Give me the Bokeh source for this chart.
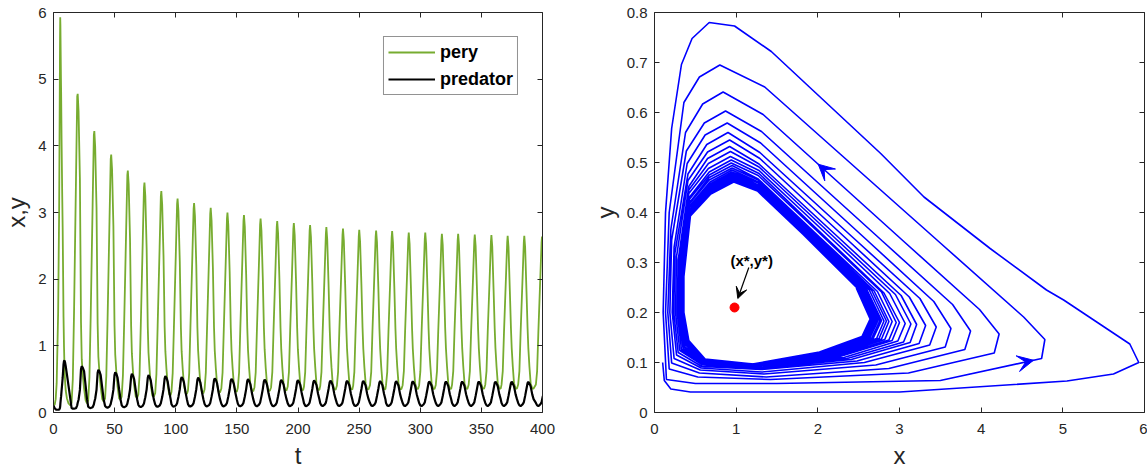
from bokeh.plotting import figure
from bokeh.layouts import row
from bokeh.models import (Range1d, LinearAxis, FixedTicker, Legend, LegendItem,
                          Arrow, VeeHead, Label, ColumnDataSource)
from bokeh.embed import file_html
from bokeh.resources import INLINE

# ---------------- data ----------------
# first (transient) loop, explicit samples: time, prey x, predator y
start_t = [0, 1.0, 1.8, 2.6, 3.8, 4.6, 5.2, 5.35, 5.5, 5.65, 6.1, 6.25, 6.6, 7.1, 7.5,
           8.2, 8.6, 9.0, 9.5, 10.0, 11.0, 12.3, 13.8]
start_x = [0.10, 0.12, 0.20, 0.44, 1.50, 3.00, 5.05, 5.62, 5.93, 5.82, 5.01, 4.80, 4.11,
           3.30, 2.77, 1.43, 0.98, 0.67, 0.46, 0.33, 0.21, 0.135, 0.106]
start_y = [0.10, 0.064, 0.047, 0.041, 0.041, 0.041, 0.063, 0.077, 0.10, 0.137, 0.225, 0.245,
           0.328, 0.431, 0.518, 0.722, 0.773, 0.78, 0.748, 0.696, 0.568, 0.40, 0.20]

# times of the prey peaks of the following loops (loops 2 .. 30)
peak_t = [19.8, 33.4, 47.2, 60.8, 74.4, 88.2, 101.5, 115.0, 128.6, 142.3, 155.8, 169.4,
          183.0, 196.6, 209.9, 223.2, 236.8, 250.1, 263.9, 277.0, 290.6, 304.1, 317.7,
          331.0, 344.6, 358.2, 371.5, 385.1, 399.6]
# time of each loop vertex relative to that loop's prey peak
vertex_dt = [-5.0, -4.0, -3.0, -1.4, -0.4, 0.0, 0.7, 1.8, 2.7, 3.3, 4.2, 5.2, 6.5, 7.6]

# loop vertices (prey x, predator y), loops 2 .. 30
loops_x = [
    [0.146, 0.50, 1.50, 3.50, 4.74, 4.78, 4.52, 3.50, 1.35, 0.80, 0.55, 0.36, 0.18, 0.135],
    [0.180, 0.53, 1.42, 3.11, 4.16, 4.22, 3.98, 3.06, 1.33, 0.84, 0.59, 0.38, 0.20, 0.163],
    [0.21, 0.55, 1.37, 2.87, 3.80, 3.87, 3.65, 2.79, 1.31, 0.87, 0.61, 0.39, 0.21, 0.188],
    [0.24, 0.56, 1.34, 2.71, 3.56, 3.63, 3.42, 2.60, 1.30, 0.89, 0.62, 0.40, 0.24, 0.217],
    [0.27, 0.57, 1.31, 2.57, 3.37, 3.45, 3.25, 2.45, 1.29, 0.90, 0.64, 0.41, 0.25, 0.236],
    [0.29, 0.58, 1.30, 2.48, 3.24, 3.32, 3.12, 2.34, 1.29, 0.92, 0.65, 0.41, 0.27, 0.257],
    [0.31, 0.59, 1.28, 2.41, 3.13, 3.21, 3.02, 2.26, 1.28, 0.92, 0.65, 0.42, 0.29, 0.277],
    [0.33, 0.59, 1.27, 2.36, 3.05, 3.14, 2.95, 2.21, 1.28, 0.93, 0.66, 0.42, 0.30, 0.290],
    [0.35, 0.60, 1.26, 2.32, 2.98, 3.07, 2.88, 2.16, 1.28, 0.93, 0.66, 0.42, 0.31, 0.300],
    [0.36, 0.60, 1.25, 2.27, 2.91, 3.00, 2.81, 2.11, 1.28, 0.94, 0.67, 0.43, 0.32, 0.310],
    [0.37, 0.60, 1.25, 2.24, 2.87, 2.96, 2.78, 2.07, 1.27, 0.94, 0.67, 0.43, 0.33, 0.318],
    [0.38, 0.60, 1.24, 2.20, 2.82, 2.91, 2.73, 2.02, 1.27, 0.95, 0.67, 0.43, 0.33, 0.325],
    [0.38, 0.61, 1.24, 2.18, 2.78, 2.87, 2.69, 2.00, 1.27, 0.95, 0.67, 0.43, 0.34, 0.330],
    [0.39, 0.61, 1.23, 2.15, 2.75, 2.84, 2.66, 1.97, 1.27, 0.95, 0.68, 0.43, 0.34, 0.335],
    [0.39, 0.61, 1.23, 2.14, 2.72, 2.81, 2.63, 1.95, 1.27, 0.95, 0.68, 0.43, 0.34, 0.339],
    [0.40, 0.61, 1.22, 2.11, 2.68, 2.78, 2.60, 1.92, 1.27, 0.96, 0.68, 0.43, 0.35, 0.342],
    [0.40, 0.61, 1.22, 2.10, 2.66, 2.76, 2.58, 1.91, 1.27, 0.96, 0.68, 0.44, 0.35, 0.345],
    [0.40, 0.61, 1.22, 2.08, 2.64, 2.74, 2.56, 1.90, 1.27, 0.96, 0.68, 0.44, 0.35, 0.347],
    [0.41, 0.61, 1.22, 2.08, 2.63, 2.73, 2.56, 1.89, 1.26, 0.96, 0.68, 0.44, 0.35, 0.349],
    [0.41, 0.61, 1.21, 2.07, 2.62, 2.72, 2.55, 1.88, 1.26, 0.96, 0.68, 0.44, 0.35, 0.351],
    [0.41, 0.62, 1.21, 2.06, 2.60, 2.70, 2.53, 1.86, 1.26, 0.96, 0.68, 0.44, 0.355, 0.353],
    [0.41, 0.62, 1.21, 2.05, 2.60, 2.70, 2.53, 1.86, 1.26, 0.96, 0.69, 0.44, 0.356, 0.354],
    [0.414, 0.62, 1.21, 2.04, 2.58, 2.68, 2.51, 1.85, 1.26, 0.97, 0.69, 0.44, 0.356, 0.355],
    [0.415, 0.62, 1.21, 2.04, 2.58, 2.68, 2.51, 1.85, 1.26, 0.97, 0.69, 0.44, 0.357, 0.356],
    [0.416, 0.62, 1.21, 2.03, 2.57, 2.67, 2.50, 1.84, 1.26, 0.97, 0.69, 0.44, 0.358, 0.357],
    [0.417, 0.62, 1.21, 2.03, 2.56, 2.66, 2.49, 1.83, 1.26, 0.97, 0.69, 0.44, 0.359, 0.358],
    [0.418, 0.62, 1.20, 2.02, 2.55, 2.65, 2.48, 1.82, 1.26, 0.97, 0.69, 0.44, 0.36, 0.359],
    [0.419, 0.62, 1.20, 2.02, 2.55, 2.65, 2.48, 1.82, 1.26, 0.97, 0.69, 0.44, 0.36, 0.36],
    [0.42, 0.62, 1.20, 2.02, 2.54, 2.64, 2.47],
]
loops_y = [
    [0.066, 0.058, 0.058, 0.064, 0.108, 0.146, 0.191, 0.339, 0.651, 0.695, 0.671, 0.620, 0.400, 0.200],
    [0.087, 0.071, 0.066, 0.079, 0.119, 0.157, 0.206, 0.341, 0.596, 0.641, 0.617, 0.560, 0.366, 0.200],
    [0.099, 0.079, 0.071, 0.088, 0.126, 0.163, 0.216, 0.343, 0.562, 0.603, 0.579, 0.523, 0.345, 0.200],
    [0.108, 0.085, 0.077, 0.095, 0.131, 0.168, 0.222, 0.345, 0.539, 0.579, 0.555, 0.498, 0.331, 0.200],
    [0.115, 0.089, 0.081, 0.100, 0.135, 0.171, 0.228, 0.347, 0.520, 0.560, 0.536, 0.477, 0.319, 0.200],
    [0.120, 0.092, 0.086, 0.103, 0.138, 0.174, 0.231, 0.349, 0.508, 0.545, 0.521, 0.464, 0.312, 0.200],
    [0.124, 0.095, 0.088, 0.106, 0.140, 0.176, 0.234, 0.349, 0.497, 0.532, 0.508, 0.452, 0.305, 0.200],
    [0.126, 0.096, 0.090, 0.108, 0.141, 0.177, 0.236, 0.349, 0.491, 0.522, 0.498, 0.445, 0.301, 0.200],
    [0.128, 0.098, 0.091, 0.110, 0.143, 0.178, 0.238, 0.349, 0.484, 0.512, 0.488, 0.438, 0.297, 0.200],
    [0.131, 0.099, 0.092, 0.112, 0.144, 0.180, 0.239, 0.348, 0.478, 0.505, 0.481, 0.431, 0.293, 0.200],
    [0.132, 0.100, 0.093, 0.113, 0.145, 0.180, 0.241, 0.351, 0.474, 0.499, 0.475, 0.427, 0.291, 0.200],
    [0.135, 0.101, 0.094, 0.114, 0.146, 0.182, 0.242, 0.351, 0.467, 0.494, 0.470, 0.420, 0.287, 0.200],
    [0.136, 0.102, 0.094, 0.115, 0.147, 0.182, 0.243, 0.351, 0.465, 0.489, 0.465, 0.418, 0.286, 0.200],
    [0.137, 0.103, 0.095, 0.116, 0.148, 0.183, 0.244, 0.352, 0.461, 0.485, 0.461, 0.413, 0.283, 0.200],
    [0.138, 0.103, 0.095, 0.117, 0.148, 0.183, 0.245, 0.352, 0.459, 0.481, 0.457, 0.411, 0.282, 0.200],
    [0.139, 0.104, 0.096, 0.118, 0.149, 0.184, 0.246, 0.353, 0.455, 0.478, 0.454, 0.406, 0.279, 0.200],
    [0.140, 0.105, 0.096, 0.118, 0.149, 0.184, 0.246, 0.352, 0.454, 0.475, 0.451, 0.405, 0.278, 0.200],
    [0.141, 0.105, 0.096, 0.119, 0.150, 0.185, 0.247, 0.352, 0.452, 0.473, 0.449, 0.403, 0.277, 0.200],
    [0.141, 0.106, 0.097, 0.119, 0.150, 0.185, 0.247, 0.352, 0.451, 0.471, 0.447, 0.402, 0.277, 0.200],
    [0.141, 0.106, 0.097, 0.119, 0.150, 0.185, 0.247, 0.352, 0.450, 0.469, 0.445, 0.401, 0.276, 0.200],
    [0.142, 0.106, 0.097, 0.120, 0.150, 0.185, 0.248, 0.353, 0.448, 0.467, 0.443, 0.399, 0.275, 0.200],
    [0.142, 0.106, 0.097, 0.120, 0.151, 0.186, 0.248, 0.353, 0.447, 0.466, 0.442, 0.398, 0.274, 0.200],
    [0.143, 0.107, 0.097, 0.120, 0.151, 0.186, 0.248, 0.354, 0.446, 0.465, 0.441, 0.396, 0.274, 0.200],
    [0.143, 0.107, 0.097, 0.120, 0.151, 0.186, 0.248, 0.354, 0.446, 0.464, 0.440, 0.396, 0.273, 0.200],
    [0.143, 0.107, 0.097, 0.121, 0.151, 0.186, 0.249, 0.354, 0.445, 0.463, 0.439, 0.395, 0.273, 0.200],
    [0.144, 0.107, 0.097, 0.121, 0.151, 0.186, 0.249, 0.355, 0.444, 0.462, 0.438, 0.394, 0.272, 0.200],
    [0.144, 0.107, 0.097, 0.121, 0.151, 0.186, 0.249, 0.356, 0.443, 0.462, 0.438, 0.393, 0.272, 0.200],
    [0.144, 0.107, 0.097, 0.121, 0.152, 0.187, 0.249, 0.356, 0.443, 0.461, 0.437, 0.393, 0.272, 0.200],
    [0.144, 0.107, 0.097, 0.121, 0.152, 0.187, 0.249],
]

# equilibrium point
eq_x = [0.98]
eq_y = [0.21]
eq_label = "(x*,y*)"

# direction arrows on the phase curve: (loop index, vertex index, fraction along segment)
arrow_loop = [1, 0]
arrow_seg = [7, 3]
arrow_frac = [0.61, 0.92]

series_names = ["pery", "predator"]
t_ticks = [0, 50, 100, 150, 200, 250, 300, 350, 400]
xy_ticks = [0, 1, 2, 3, 4, 5, 6]
phase_x_ticks = [0, 1, 2, 3, 4, 5, 6]
phase_y_ticks = [0, 0.1, 0.2, 0.3, 0.4, 0.5, 0.6, 0.7, 0.8]

# ---------------- assemble trajectory ----------------
t_all, x_all, y_all = list(start_t), list(start_x), list(start_y)
for tp, lx, ly in zip(peak_t, loops_x, loops_y):
    for dt, xv, yv in zip(vertex_dt, lx, ly):
        t_all.append(tp + dt)
        x_all.append(xv)
        y_all.append(yv)
src = ColumnDataSource(dict(t=t_all, x=x_all, y=y_all))

FONT = "Liberation Sans"
AX = "#262626"
GREEN = "#77AC30"
BLUE = "#0000FF"


def frame_axes(p, xt, yt, xlabel, ylabel):
    bottom = p.below[0]
    left = p.left[0]
    bottom.ticker = FixedTicker(ticks=xt)
    left.ticker = FixedTicker(ticks=yt)
    bottom.axis_label = xlabel
    left.axis_label = ylabel
    top = LinearAxis(ticker=FixedTicker(ticks=xt), major_label_text_color=None,
                     major_label_text_font_size="1px", major_label_standoff=0)
    right = LinearAxis(ticker=FixedTicker(ticks=yt), major_label_text_color=None,
                       major_label_text_font_size="1px", major_label_standoff=0)
    p.add_layout(top, "above")
    p.add_layout(right, "right")
    for ax in (bottom, left, top, right):
        ax.major_tick_in = 5
        ax.major_tick_out = 0
        ax.minor_tick_in = 0
        ax.minor_tick_out = 0
        ax.axis_line_color = AX
        ax.axis_line_width = 1
        ax.major_tick_line_color = AX
        ax.major_tick_line_width = 1
    for ax in (bottom, left):
        ax.major_label_text_font = FONT
        ax.major_label_text_font_size = "15px"
        ax.major_label_text_color = AX
        ax.axis_label_text_font = FONT
        ax.axis_label_text_font_size = "24px"
        ax.axis_label_text_font_style = "normal"
        ax.axis_label_text_color = AX
    bottom.major_label_standoff = 11
    bottom.axis_label_standoff = 5
    left.major_label_standoff = 7
    left.axis_label_standoff = 5
    p.grid.visible = False
    p.outline_line_color = None
    p.background_fill_color = "white"
    p.border_fill_color = "white"
    return bottom, left


# ---------------- left: time series ----------------
p1 = figure(width=573, height=472, x_range=Range1d(0, 400), y_range=Range1d(0, 6),
            output_backend="svg", toolbar_location=None,
            min_border_left=51, min_border_right=31, min_border_top=12, min_border_bottom=60)
r_prey = p1.line("t", "x", source=src, line_color=GREEN, line_width=1.8)
r_pred = p1.line("t", "y", source=src, line_color="black", line_width=2.2)
frame_axes(p1, t_ticks, xy_ticks, "t", "x,y")

legend = Legend(items=[LegendItem(label=series_names[0], renderers=[r_prey]),
                       LegendItem(label=series_names[1], renderers=[r_pred])],
                location="top_right", margin=24, padding=4, spacing=5,
                glyph_width=47, glyph_height=22, label_height=22, label_standoff=5,
                label_text_font=FONT, label_text_font_style="bold",
                label_text_font_size="18px", label_text_color="black",
                border_line_color=AX, border_line_width=1,
                background_fill_color="white", background_fill_alpha=1)
p1.add_layout(legend)

# ---------------- right: phase portrait ----------------
p2 = figure(width=574, height=472, x_range=Range1d(0, 6), y_range=Range1d(0, 0.8),
            output_backend="svg", toolbar_location=None,
            min_border_left=81, min_border_right=3, min_border_top=12, min_border_bottom=60)
p2.line("x", "y", source=src, line_color=BLUE, line_width=1.6)
p2.scatter(eq_x, eq_y, size=9, color="red")
_, p2_left = frame_axes(p2, phase_x_ticks, phase_y_ticks, "x", "y")
p2_left.major_label_overrides = {0: "0"}

for li, si, fr in zip(arrow_loop, arrow_seg, arrow_frac):
    xa, ya = loops_x[li][si], loops_y[li][si]
    xb, yb = loops_x[li][si + 1], loops_y[li][si + 1]
    xs, ys = xa + (fr - 0.06) * (xb - xa), ya + (fr - 0.06) * (yb - ya)
    xe, ye = xa + fr * (xb - xa), ya + fr * (yb - ya)
    p2.add_layout(Arrow(end=VeeHead(size=16, fill_color=BLUE, line_color=BLUE, line_width=1),
                        x_start=xs, y_start=ys, x_end=xe, y_end=ye, line_alpha=0))

# equilibrium annotation
p2.add_layout(Label(x=eq_x[0] + 0.21, y=eq_y[0] + 0.095, text=eq_label,
                    text_font=FONT, text_font_style="bold", text_font_size="15px",
                    text_color="black", text_align="center", text_baseline="middle"))
p2.add_layout(Arrow(end=VeeHead(size=11, fill_color="black", line_color="black"),
                    x_start=eq_x[0] + 0.175, y_start=eq_y[0] + 0.08,
                    x_end=eq_x[0] + 0.04, y_end=eq_y[0] + 0.018,
                    line_color="black", line_width=1.2))

layout = row(p1, p2)
open("out.html", "w").write(file_html(layout, INLINE))
